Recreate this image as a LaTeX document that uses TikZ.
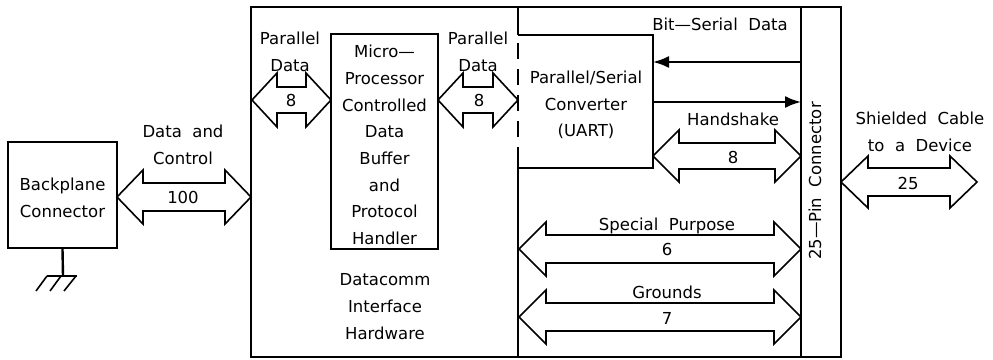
\documentclass[tikz,border=0pt]{standalone}
\usepackage{fontspec}
\setmainfont{DejaVu Sans}
\usetikzlibrary{arrows.meta}
\newcommand\dblarr[6]{% x1 x2 y headlen headhalf shafthalf
  \draw[bus] (#1,#3) -- (#1+#4,#3-#5) -- (#1+#4,#3-#6) -- (#2-#4,#3-#6) -- (#2-#4,#3-#5) -- (#2,#3)
    -- (#2-#4,#3+#5) -- (#2-#4,#3+#6) -- (#1+#4,#3+#6) -- (#1+#4,#3+#5) -- cycle;}
\begin{document}
\begin{tikzpicture}[x=1pt,y=-1pt,
  txt/.style={font=\fontsize{16.5}{26.7}\selectfont, align=center, inner sep=0pt},
  boxline/.style={line width=2pt},
  bus/.style={line width=1.6pt, line join=miter},
  sig/.style={line width=2pt, -{Latex[length=16pt,width=12pt]}}]
\useasboundingbox (0,0) rectangle (993,359);
% Backplane connector
\node[draw, boxline, minimum width=109pt, minimum height=106pt, inner sep=0pt] (bp) at (62.5,195) {};
\node[txt] (bptxt) at (62.5,198) {Backplane\\Connector};
% ground
\coordinate (g0) at (63,276);
\draw[line width=2.4pt] (bp.south) -- (g0);
\draw[line width=1.6pt] (47,276) -- (77,276);
\draw[line width=1.6pt] (47,276) -- (36,291) (61,276) -- (50,291) (76,276) -- (64,291);
% outer frame
\draw[boxline] (251,7) rectangle (841,357);
\draw[boxline] (801,7) -- (801,357);
\draw[boxline] (518,7) -- (518,35);
\draw[boxline] (518,160) -- (518,357);
\draw[boxline, dash pattern=on 16pt off 10pt] (518,43) -- (518,160);
% UART box
\draw[boxline] (518,35) -- (653,35) -- (653,168) -- (518,168);
\node[txt] (uart) at (586,105) {Parallel/Serial\\Converter\\(UART)};
% microprocessor box
\node[draw, boxline, minimum width=107pt, minimum height=215pt, inner sep=0pt] (mp) at (384.5,141.5) {};
\node[txt] (mptxt) at (384.5,145) {Micro---\\Processor\\Controlled\\Data\\Buffer\\and\\Protocol\\Handler};
\node[txt] (dc) at (385,306.5) {Datacomm\\Interface\\Hardware};
% buses
\dblarr{117}{251}{197}{26}{27}{14}
\node[txt] at (183,145) {Data\ \ and\\Control};
\node[txt] at (183,197) {100};
\dblarr{252}{331}{100}{25}{27}{13}
\node[txt] at (290,51.5) {Parallel\\Data};
\node[txt] at (291,100) {8};
\dblarr{438}{518}{100}{25}{27}{13}
\node[txt] at (478,51.5) {Parallel\\Data};
\node[txt] at (479,100) {8};
% bit serial
\node[txt] at (720,24.5) {Bit---Serial\ \ Data};
\coordinate (bsr) at (801,62);
\coordinate (bsl) at (653,62);
\coordinate (btl) at (653,102);
\coordinate (btr) at (801,102);
\draw[sig] (bsr) -- (bsl);
\draw[sig] (btl) -- (btr);
\dblarr{653}{801}{156}{26}{26}{13}
\node[txt] at (733,119.5) {Handshake};
\node[txt] at (733,157) {8};
\dblarr{519}{801}{249}{27}{27}{14}
\node[txt] at (667,226) {Special\ \ Purpose};
\node[txt] at (667,249) {6};
\dblarr{519}{801}{317}{27}{27}{14}
\node[txt] at (667,292) {Grounds};
\node[txt] at (667,318) {7};
% connector
\node[txt, rotate=90] (pin) at (815,181) {25---Pin\ \ Connector};
% cable
\dblarr{841}{977}{182}{27}{26}{14}
\node[txt] at (920,132) {Shielded\ \ Cable\\to\ \ a\ \ Device};
\node[txt] at (908,183) {25};
\end{tikzpicture}
\end{document}
